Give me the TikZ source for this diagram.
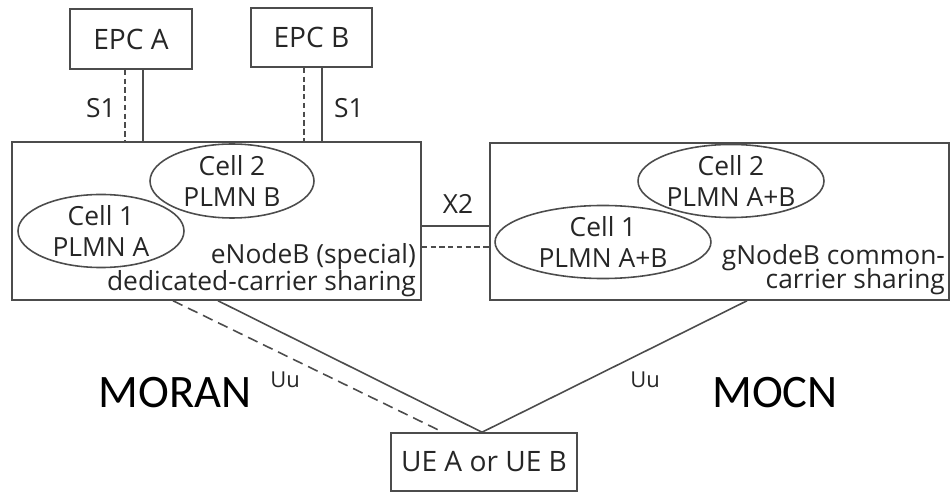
\documentclass[tikz,border=0pt]{standalone}
\usepackage{fontspec}
\setmainfont{Open Sans}
\newfontfamily\bigfont{Carlito}
\usepackage{tikz}
\usetikzlibrary{shapes,arrows,positioning}
\def\txtsize{\fontsize{15}{16.5}\selectfont}

\begin{document}
\begin{tikzpicture}[x=0.02cm,y=-0.02cm,draw=black!70,line width=0.9pt,text=black!85]
    \tikzstyle{box}=[rectangle,draw,inner sep=0pt,font=\txtsize]
    \tikzstyle{cell}=[ellipse,draw,inner sep=0pt,align=center,font=\fontsize{15}{18}\selectfont]
    \tikzstyle{annot}=[inner sep=0pt,font=\txtsize]
    \tikzstyle{uu}=[inner sep=0pt,font=\fontsize{12.5}{15}\selectfont]
    \tikzstyle{mode}=[inner sep=0pt,text=black,font=\bigfont\fontsize{26.5}{30}\selectfont]
    \tikzstyle{fine dash}=[dash pattern=on 3pt off 2pt]
    \tikzstyle{long dash}=[dash pattern=on 6pt off 3.5pt]

    \useasboundingbox (0,0) rectangle (951,493);

    % Draw the core network boxes
    \node[box,minimum width=2.44cm,minimum height=1.2cm,font=\fontsize{16}{19}\selectfont] (epcA) at (131,39) {EPC A};
    \node[box,minimum width=2.42cm,minimum height=1.18cm,font=\fontsize{16}{19}\selectfont] (epcB) at (311.5,37.5) {EPC B};

    % Draw the base stations
    \node[box,minimum width=8.18cm,minimum height=3.16cm] (enb) at (216.5,221) {};
    \node[box,minimum width=9.18cm,minimum height=3.14cm] (gnb) at (719.5,221.5) {};
    \node[annot,anchor=south east,align=right] (enbtxt) at ([xshift=-0.1cm,yshift=0.06cm]enb.south east) {eNodeB (special)\\[-1pt]dedicated-carrier sharing};
    \node[annot,anchor=south east,align=right] (gnbtxt) at ([xshift=-0.08cm,yshift=0.1cm]gnb.south east) {gNodeB common-\\[-3pt]carrier sharing};

    % Draw the cells
    \node[cell,minimum width=3.28cm,minimum height=1.48cm] (cell2A) at (232,181) {Cell 2\\PLMN B};
    \node[cell,minimum width=3.32cm,minimum height=1.44cm] (cell1A) at (101,231) {Cell 1\\PLMN A};
    \node[cell,minimum width=3.72cm,minimum height=1.46cm] (cell2B) at (731,181) {Cell 2\\PLMN A+B};
    \node[cell,minimum width=4.32cm,minimum height=1.44cm] (cell1B) at (603,242) {Cell 1\\PLMN A+B};

    % Draw the terminal
    \node[box,minimum width=3.72cm,minimum height=1.16cm,font=\fontsize{16}{19}\selectfont] (ue) at (484,462) {UE A or UE B};

    % S1 links
    \draw[fine dash] ([xshift=-0.12cm]epcA.south) -- ([xshift=-0.12cm]epcA.south |- enb.north);
    \draw ([xshift=0.24cm]epcA.south) -- ([xshift=0.24cm]epcA.south |- enb.north);
    \draw[fine dash] ([xshift=-0.15cm]epcB.south) -- ([xshift=-0.15cm]epcB.south |- enb.north);
    \draw ([xshift=0.21cm]epcB.south) -- ([xshift=0.21cm]epcB.south |- enb.north);
    \node[annot] (s1A) at (101,108) {S1};
    \node[annot] (s1B) at (349,108) {S1};

    % X2 links
    \draw ([yshift=-0.1cm]enb.east) -- ([yshift=-0.1cm]enb.east -| gnb.west);
    \draw[fine dash] ([yshift=-0.52cm]enb.east) -- ([yshift=-0.52cm]enb.east -| gnb.west);
    \node[annot] (x2) at (458,204) {X2};

    % Uu links
    \draw[long dash] ([xshift=-0.87cm]enb.south) -- ([xshift=-0.82cm]ue.north);
    \draw ([xshift=0.03cm]enb.south) -- ([xshift=-0.04cm]ue.north);
    \draw ([xshift=0.55cm]gnb.south) -- ([xshift=-0.04cm]ue.north);
    \node[uu] (uuA) at (285,380) {Uu};
    \node[uu] (uuB) at (645,380) {Uu};

    % Sharing modes
    \node[mode] (moran) at (175,393) {MORAN};
    \node[mode] (mocn) at (775,393) {MOCN};

\end{tikzpicture}
\end{document}
